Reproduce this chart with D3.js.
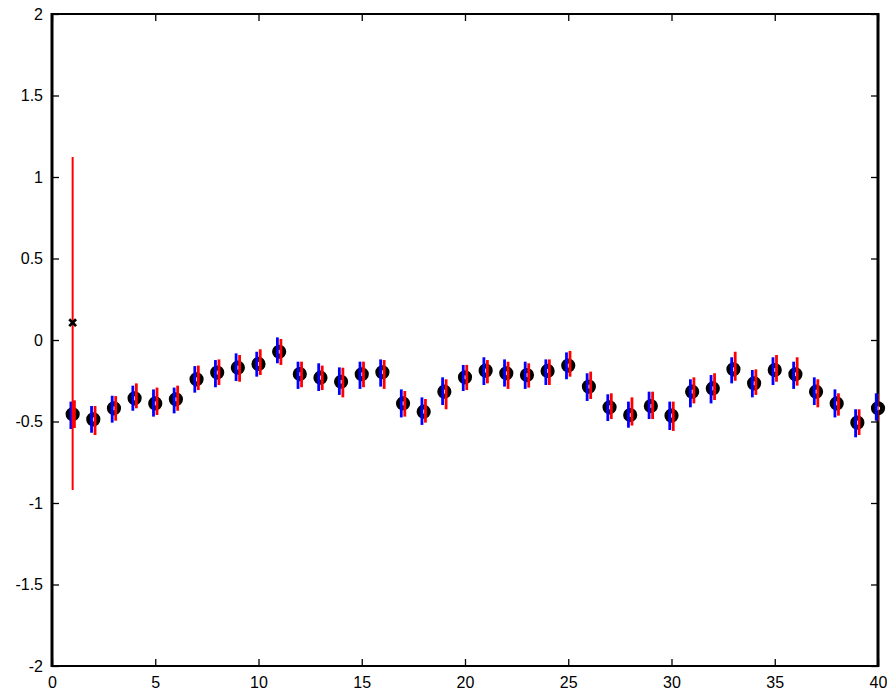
<!DOCTYPE html>
<html>
<head>
<meta charset="utf-8">
<script src="https://cdn.jsdelivr.net/npm/d3@7"></script>
<style>
  html, body { margin: 0; padding: 0; background: #fff; }
  svg { display: block; }
  text { font-family: "Liberation Sans", Arial, Helvetica, sans-serif; }
</style>
</head>
<body>
<svg id="chart" width="887" height="694"></svg>
<script>
// ---- data ----
const xIndex = d3.range(1, 41);
const means = [-0.456,-0.487,-0.419,-0.358,-0.389,-0.364,-0.241,-0.200,-0.170,-0.147,
  -0.072,-0.209,-0.231,-0.256,-0.210,-0.198,-0.389,-0.440,-0.317,-0.229,
  -0.188,-0.204,-0.215,-0.190,-0.157,-0.286,-0.413,-0.460,-0.405,-0.464,
  -0.317,-0.297,-0.180,-0.266,-0.184,-0.210,-0.317,-0.389,-0.507,-0.419];
const blueLow = [-0.546,-0.569,-0.507,-0.434,-0.470,-0.450,-0.323,-0.290,-0.252,-0.225,
  -0.143,-0.300,-0.313,-0.337,-0.300,-0.286,-0.475,-0.521,-0.399,-0.313,
  -0.276,-0.286,-0.300,-0.276,-0.241,-0.374,-0.497,-0.538,-0.485,-0.552,
  -0.413,-0.389,-0.266,-0.352,-0.276,-0.300,-0.399,-0.475,-0.597,-0.495];
const blueHigh = [-0.378,-0.405,-0.342,-0.280,-0.303,-0.292,-0.160,-0.123,-0.082,-0.072,
  0.016,-0.133,-0.143,-0.168,-0.133,-0.119,-0.303,-0.352,-0.229,-0.153,
  -0.106,-0.119,-0.133,-0.119,-0.076,-0.204,-0.333,-0.378,-0.317,-0.378,
  -0.241,-0.215,-0.106,-0.184,-0.106,-0.133,-0.229,-0.303,-0.425,-0.327];
const redLow = [-0.540,-0.583,-0.495,-0.419,-0.460,-0.434,-0.307,-0.276,-0.256,-0.215,
  -0.153,-0.290,-0.307,-0.352,-0.290,-0.300,-0.470,-0.507,-0.425,-0.307,
  -0.266,-0.300,-0.292,-0.276,-0.225,-0.362,-0.485,-0.525,-0.485,-0.558,
  -0.389,-0.368,-0.250,-0.337,-0.256,-0.280,-0.413,-0.464,-0.583,-0.500];
const redHigh = [-0.370,-0.405,-0.344,-0.266,-0.292,-0.280,-0.157,-0.119,-0.092,-0.057,
  0.006,-0.133,-0.157,-0.170,-0.133,-0.123,-0.313,-0.362,-0.241,-0.153,
  -0.123,-0.133,-0.143,-0.119,-0.067,-0.194,-0.327,-0.352,-0.317,-0.378,
  -0.229,-0.204,-0.072,-0.180,-0.092,-0.106,-0.241,-0.327,-0.425,-0.330];
const outlierX = 1;
const outlierValue = 0.106;
const outlierLow = -0.92;
const outlierHigh = 1.123;
const xTicks = [0,5,10,15,20,25,30,35,40];
const yTicks = [-2,-1.5,-1,-0.5,0,0.5,1,1.5,2];

// ---- layout ----
const L = 52, R = 878, T = 14, B = 666;
const svg = d3.select("#chart");
const xs = d3.scaleLinear().domain([0, 40]).range([L, R]);
const ys = d3.scaleLinear().domain([-2, 2]).range([B, T]);
const fmt = d => String(d);

// axes (ticks inward)
const gx = svg.append("g").attr("transform", `translate(0,${B})`)
  .call(d3.axisBottom(xs).tickValues(xTicks).tickFormat(fmt).tickSizeInner(-7).tickSizeOuter(0).tickPadding(11));
const gxt = svg.append("g").attr("transform", `translate(0,${T})`)
  .call(d3.axisTop(xs).tickValues(xTicks).tickFormat("").tickSizeInner(-7).tickSizeOuter(0));
const gy = svg.append("g").attr("transform", `translate(${L},0)`)
  .call(d3.axisLeft(ys).tickValues(yTicks).tickFormat(fmt).tickSizeInner(-7).tickSizeOuter(0).tickPadding(9));
const gyr = svg.append("g").attr("transform", `translate(${R},0)`)
  .call(d3.axisRight(ys).tickValues(yTicks).tickFormat("").tickSizeInner(-7).tickSizeOuter(0));
[gx, gxt, gy, gyr].forEach(g => {
  g.select(".domain").remove();
  g.selectAll(".tick line").attr("stroke", "#000").attr("stroke-width", 1.3);
  g.selectAll("text").attr("fill", "#000").style("font-size", "16px")
    .style("font-family", '"Liberation Sans", Arial, Helvetica, sans-serif');
});

// frame
svg.append("line").attr("x1", L).attr("x2", R).attr("y1", T).attr("y2", T).attr("stroke", "#000").attr("stroke-width", 2);
svg.append("line").attr("x1", L).attr("x2", R).attr("y1", B).attr("y2", B).attr("stroke", "#000").attr("stroke-width", 2);
svg.append("line").attr("x1", L).attr("x2", L).attr("y1", T - 1).attr("y2", B + 1).attr("stroke", "#000").attr("stroke-width", 3);
svg.append("line").attr("x1", R).attr("x2", R).attr("y1", T - 1).attr("y2", B + 1).attr("stroke", "#000").attr("stroke-width", 3);

// clip for error bars
svg.append("clipPath").attr("id", "plotclip").append("rect")
  .attr("x", L - 1).attr("y", T).attr("width", R - L + 2).attr("height", B - T);

const pts = xIndex.map((x, i) => ({x, m: means[i], bl: blueLow[i], bh: blueHigh[i], rl: redLow[i], rh: redHigh[i]}));

// circle markers
svg.append("g").selectAll("circle").data(pts).join("circle")
  .attr("cx", d => xs(d.x)).attr("cy", d => ys(d.m)).attr("r", 4.6)
  .attr("fill", "#fff").attr("stroke", "#000").attr("stroke-width", 5);

const bars = svg.append("g").attr("clip-path", "url(#plotclip)");
bars.selectAll("line.blue").data(pts).join("line").attr("class", "blue")
  .attr("x1", d => xs(d.x - 0.085)).attr("x2", d => xs(d.x - 0.085))
  .attr("y1", d => ys(d.bl)).attr("y2", d => ys(d.bh))
  .attr("stroke", "#0000ff").attr("stroke-width", 2.8);
bars.selectAll("line.red").data(pts).join("line").attr("class", "red")
  .attr("x1", d => xs(d.x + 0.085)).attr("x2", d => xs(d.x + 0.085))
  .attr("y1", d => ys(d.rl)).attr("y2", d => ys(d.rh))
  .attr("stroke", "#ff0000").attr("stroke-width", 2.8);

// outlier
bars.append("line")
  .attr("x1", xs(outlierX)).attr("x2", xs(outlierX))
  .attr("y1", ys(outlierLow)).attr("y2", ys(outlierHigh))
  .attr("stroke", "#ff0000").attr("stroke-width", 2);
const ox = xs(outlierX), oy = ys(outlierValue), s = 3.4;
svg.append("path")
  .attr("d", `M${ox - s},${oy - s}L${ox + s},${oy + s}M${ox - s},${oy + s}L${ox + s},${oy - s}`)
  .attr("stroke", "#000").attr("stroke-width", 2.8).attr("fill", "none");
</script>
</body>
</html>
